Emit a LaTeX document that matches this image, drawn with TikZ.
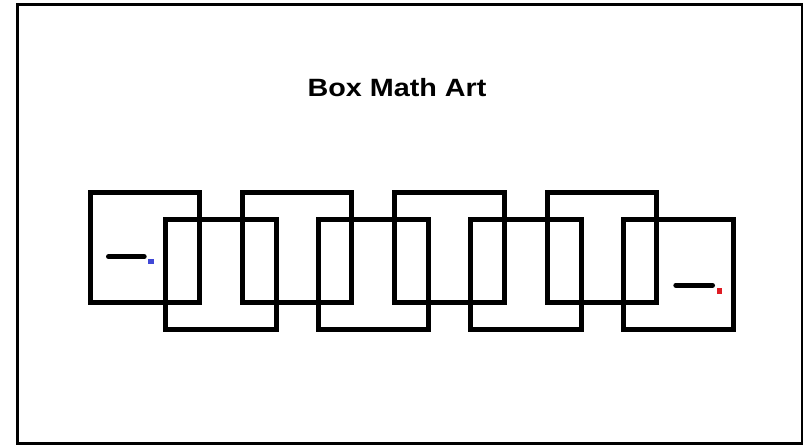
\documentclass[tikz,border=0pt]{standalone}
\usepackage{fontspec}
\setmainfont{Liberation Sans}
\definecolor{bmablue}{RGB}{64,72,214}
\definecolor{bmared}{RGB}{222,28,36}
\tikzset{
  bmaframe/.style={draw=black, line width=3pt},
  bmabox/.style={draw, line width=5pt, inner sep=0pt,
                 minimum width=109.5pt, minimum height=110pt},
  bmadash/.style={line width=5pt, line cap=round},
  bmadot/.style={inner sep=0pt, minimum size=5.5pt},
  bmatitle/.style={font=\bfseries\fontsize{25}{30}\selectfont, inner sep=0pt, anchor=base},
}
\begin{document}
\begin{tikzpicture}[x=1pt, y=-1pt]
  \useasboundingbox (0,0) rectangle (803,445);
  \draw[bmaframe] (17.5,4.5) rectangle (802,443.5);

  \node[bmatitle] (title) at (397,96) {\scalebox{1.15}[1]{Box Math Art}};

  % two rows of boxes, shifted half a step
  \foreach \i in {0,...,3} {
    \node[bmabox] (up\i) at ({144.75+152.4*\i},247) {};
    \node[bmabox, minimum width=110.5pt, minimum height=110.5pt] (low\i) at ({220.75+152.5*\i},274.25) {};
  }

  % start and end marks
  \draw[bmadash] (108.5,256.7) -- (144.2,256.7);
  \node[bmadot, fill=bmablue] (startdot) at (151.2,261.3) {};
  \draw[bmadash] (675.8,285.2) -- (712.5,285.2);
  \node[bmadot, fill=bmared] (enddot) at (719.7,290.8) {};
\end{tikzpicture}
\end{document}
